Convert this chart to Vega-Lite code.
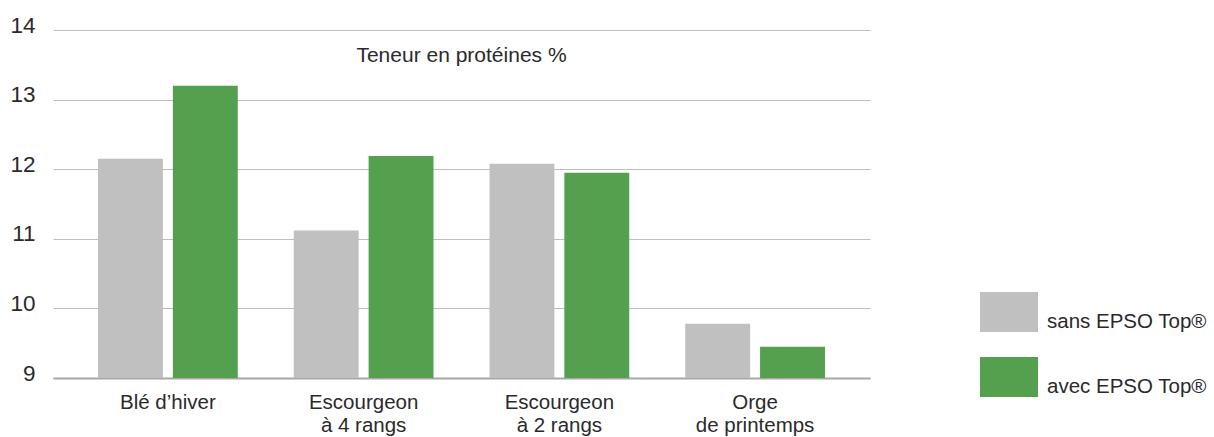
{
  "$schema": "https://vega.github.io/schema/vega-lite/v6.json",
  "width": 817,
  "height": 348,
  "autosize": {"type": "none"},
  "padding": {"left": 53, "top": 30, "right": 344, "bottom": 59},
  "background": "white",
  "layer": [
    {
      "data": {"values": [
        {"culture": "Blé d’hiver", "serie": "sans EPSO Top®", "proteines": 12.15},
        {"culture": "Blé d’hiver", "serie": "avec EPSO Top®", "proteines": 13.2},
        {"culture": "Escourgeon|à 4 rangs", "serie": "sans EPSO Top®", "proteines": 11.12},
        {"culture": "Escourgeon|à 4 rangs", "serie": "avec EPSO Top®", "proteines": 12.19},
        {"culture": "Escourgeon|à 2 rangs", "serie": "sans EPSO Top®", "proteines": 12.08},
        {"culture": "Escourgeon|à 2 rangs", "serie": "avec EPSO Top®", "proteines": 11.95},
        {"culture": "Orge|de printemps", "serie": "sans EPSO Top®", "proteines": 9.78},
        {"culture": "Orge|de printemps", "serie": "avec EPSO Top®", "proteines": 9.45}
      ]},
      "mark": {"type": "bar"},
      "encoding": {
        "x": {
          "field": "culture", "type": "nominal", "sort": null,
          "scale": {"paddingInner": 0.286, "paddingOuter": 0.23},
          "axis": {"title": null, "labelAngle": 0, "ticks": false, "domain": true, "domainColor": "#a8a8a8", "domainWidth": 2, "labelPadding": 14, "labelBaseline": "top", "labelLineHeight": 23, "labelExpr": "split(datum.label, '|')", "labelFont": "Liberation Sans", "labelFontSize": 20.5, "labelColor": "#2a2a2a", "grid": false}
        },
        "xOffset": {
          "field": "serie", "type": "nominal", "sort": ["sans EPSO Top®", "avec EPSO Top®"],
          "scale": {"paddingInner": 0.133, "paddingOuter": 0}
        },
        "y": {
          "field": "proteines", "type": "quantitative",
          "scale": {"domain": [9, 14], "zero": false, "nice": false},
          "axis": {"title": null, "values": [9, 10, 11, 12, 13, 14], "format": "d", "ticks": false, "domain": false, "grid": true, "gridColor": "#bdbdbd", "gridWidth": 1, "labelPadding": 18, "labelOffset": -5, "labelFont": "Liberation Sans", "labelFontSize": 22.5, "labelColor": "#2a2a2a"}
        },
        "y2": {"datum": 9},
        "color": {
          "field": "serie", "type": "nominal", "sort": ["sans EPSO Top®", "avec EPSO Top®"],
          "scale": {"domain": ["sans EPSO Top®", "avec EPSO Top®"], "range": ["#c0c0c0", "#54a04e"]},
          "legend": {"orient": "none", "legendX": 927, "legendY": 253, "title": null, "symbolType": "M-1,-0.69H1V0.69H-1Z", "symbolSize": 3364, "symbolStrokeWidth": 0, "symbolOpacity": 1, "rowPadding": 15, "labelOffset": 9, "labelFont": "Liberation Sans", "labelFontSize": 20.5, "labelColor": "#2a2a2a", "labelBaseline": "top", "labelLimit": 300}
        }
      }
    },
    {
      "data": {"values": [{"titre": "Teneur en protéines %", "position": 0.5, "niveau": 13.62}]},
      "mark": {"type": "text", "font": "Liberation Sans", "fontSize": 21, "color": "#2a2a2a", "align": "center", "baseline": "middle"},
      "encoding": {
        "x": {"field": "position", "type": "quantitative", "scale": {"domain": [0, 1]}, "axis": null},
        "y": {"field": "niveau", "type": "quantitative"},
        "text": {"field": "titre", "type": "nominal"}
      }
    }
  ],
  "resolve": {"scale": {"x": "independent"}},
  "config": {"view": {"stroke": null}}
}
